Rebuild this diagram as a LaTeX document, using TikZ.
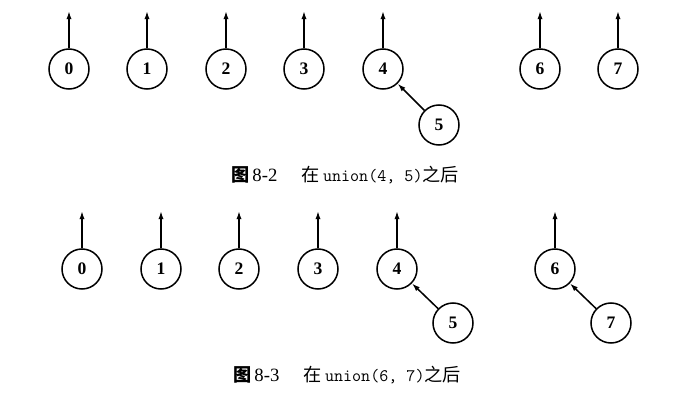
\documentclass[tikz,border=0pt]{standalone}
\usepackage{fontspec}
\setmainfont{Liberation Serif}
\newfontfamily\cjk{Noto Sans CJK SC}
\usetikzlibrary{arrows.meta}
\tikzset{
  vtx/.style={draw, circle, line width=1.3pt, minimum size=1.2cm, inner sep=0pt, font=\fontsize{15}{17}\selectfont\bfseries},
  ptr/.style={line width=1.3pt, -{Latex[length=7pt,width=4.5pt]}},
  captxt/.style={font=\fontsize{16}{18}\selectfont, inner sep=0pt}
}
\newcommand{\zh}[1]{{\fontsize{15.5}{18}\selectfont\cjk #1}}
\newcommand{\mono}[1]{{\fontsize{15}{18}\selectfont\ttfamily #1}}
\begin{document}
\begin{tikzpicture}[x=0.03cm, y=-0.03cm]
\useasboundingbox (0,0) rectangle (694,401);

%%%%% First figure
\node[vtx] (a0) at (69,69) {0}; \node[vtx] (a1) at (147,69) {1}; \node[vtx] (a2) at (226,69) {2}; \node[vtx] (a3) at (304,69) {3};
\node[vtx] (a4) at (383,69) {4}; \node[vtx] (a5) at (439,125) {5}; \node[vtx] (a6) at (540,69) {6}; \node[vtx] (a7) at (618,69) {7};

\coordinate (ta0) at (69,11); \coordinate (ta1) at (147,11); \coordinate (ta2) at (226,11); \coordinate (ta3) at (304,11);
\coordinate (ta4) at (383,11); \coordinate (ta6) at (540,11); \coordinate (ta7) at (618,11);

\draw[ptr] (a0) -- (ta0); \draw[ptr] (a1) -- (ta1); \draw[ptr] (a2) -- (ta2); \draw[ptr] (a3) -- (ta3);
\draw[ptr] (a4) -- (ta4); \draw[ptr] (a6) -- (ta6); \draw[ptr] (a7) -- (ta7);
\draw[ptr] (a5) -- (a4);

\node[captxt] (capa) at (345,175) {\zh{\bfseries 图}\,8-2\hspace{1.3em}\zh{在}\,\mono{union(4, 5)}\zh{之后}};

%%%%% Second figure
\node[vtx] (b0) at (82,269) {0}; \node[vtx] (b1) at (161,269) {1}; \node[vtx] (b2) at (239,269) {2}; \node[vtx] (b3) at (318,269) {3};
\node[vtx] (b4) at (397,269) {4}; \node[vtx] (b5) at (453,323) {5}; \node[vtx] (b6) at (555,269) {6}; \node[vtx] (b7) at (611,323) {7};

\coordinate (tb0) at (82,211); \coordinate (tb1) at (161,211); \coordinate (tb2) at (239,211); \coordinate (tb3) at (318,211);
\coordinate (tb4) at (397,211); \coordinate (tb6) at (555,211);

\draw[ptr] (b0) -- (tb0); \draw[ptr] (b1) -- (tb1); \draw[ptr] (b2) -- (tb2); \draw[ptr] (b3) -- (tb3);
\draw[ptr] (b4) -- (tb4); \draw[ptr] (b6) -- (tb6);
\draw[ptr] (b5) -- (b4); \draw[ptr] (b7) -- (b6);

\node[captxt] (capb) at (347,375) {\zh{\bfseries 图}\,8-3\hspace{1.3em}\zh{在}\,\mono{union(6, 7)}\zh{之后}};

\end{tikzpicture}
\end{document}
